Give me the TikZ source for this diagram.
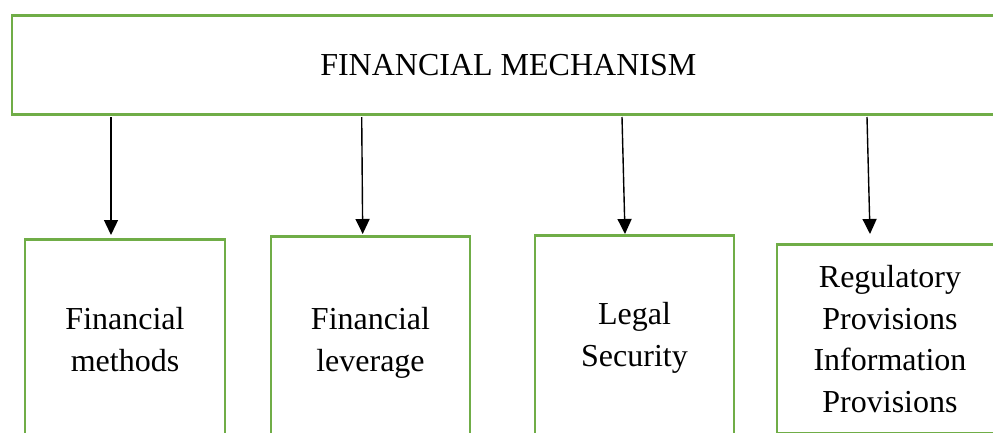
\documentclass[tikz,border=0pt]{standalone}
\usepackage{fontspec}
\setmainfont{Liberation Serif}
\usetikzlibrary{arrows.meta}
\definecolor{boxgreen}{HTML}{70AD47}
\begin{document}
\begin{tikzpicture}[x=1pt,y=-1pt,
  greenbox/.style={draw=boxgreen,line width=2.6pt,fill=white,inner sep=0pt,align=center,
    font=\fontsize{32}{41.5}\selectfont},
  conn/.style={line width=1.4pt,-{Triangle[width=14pt,length=15pt]}}]
\useasboundingbox (0,0) rectangle (993,432);
\clip (0,0) rectangle (993,432);
% top box
\node[greenbox,minimum width=993pt,minimum height=99pt,anchor=north west] (top) at (10.5,14)
  {\raisebox{-3pt}{FINANCIAL MECHANISM}};
% bottom boxes
\node[greenbox,minimum width=200pt,minimum height=200pt,anchor=north] (b1) at (125,238)
  {Financial\\methods};
\node[greenbox,minimum width=199pt,minimum height=213pt,anchor=north] (b2) at (370.5,235)
  {Financial\\leverage};
\node[greenbox,minimum width=199pt,minimum height=205pt,anchor=north] (b3) at (634.5,234)
  {Legal\\Security};
\node[greenbox,minimum width=226pt,minimum height=189pt,anchor=north] (b4) at (890,243)
  {Regulatory\\Provisions\\Information\\Provisions};
% connector ends
\coordinate (s1) at (111,117);  \coordinate (t1) at (111,235);
\coordinate (s2) at (361.7,117); \coordinate (t2) at (362.7,234);
\coordinate (s3) at (622,117);  \coordinate (t3) at (625,234);
\coordinate (s4) at (867,117);  \coordinate (t4) at (870,234);
\draw[conn] (s1) -- (t1);
\draw[conn] (s2) -- (t2);
\draw[conn] (s3) -- (t3);
\draw[conn] (s4) -- (t4);
\end{tikzpicture}
\end{document}
